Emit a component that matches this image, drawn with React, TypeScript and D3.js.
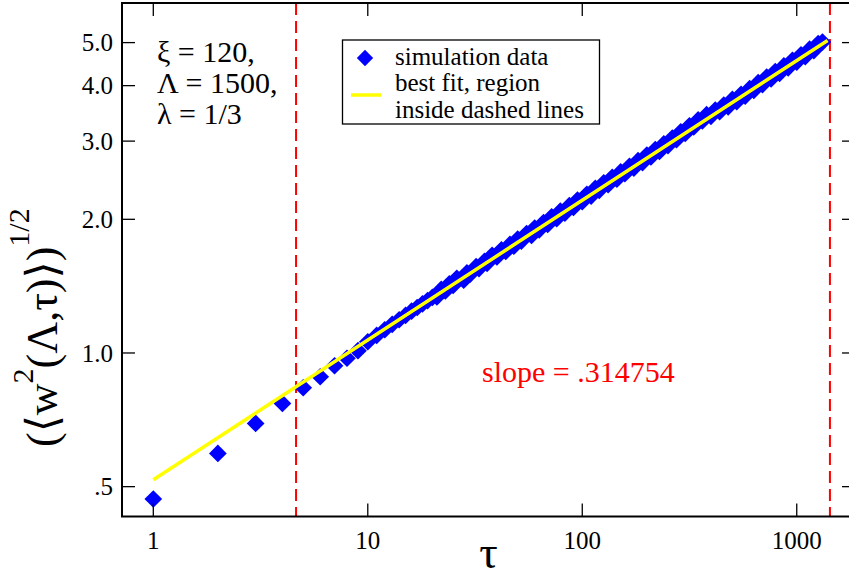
import React from "react";
import * as d3 from "d3";

// ---- data ----
const tau: number[] = [
  1, 2, 3, 4, 5, 6, 7, 8, 9, 10, 11, 12, 13, 14, 15, 16, 17, 18, 19, 20,
  21, 22, 23, 24, 25, 26, 28, 29, 30, 32, 33, 35, 36, 38, 40, 42, 44, 46, 48, 50,
  52, 55, 58, 60, 63, 66, 69, 72, 76, 79, 83, 87, 91, 95, 100, 105, 110, 115, 120, 126,
  132, 138, 145, 151, 158, 166, 174, 182, 191, 200, 209, 219, 229, 240, 251, 263, 275, 288, 302, 316,
  331, 347, 363, 380, 398, 417, 437, 457, 479, 501, 525, 550, 575, 603, 631, 661, 692, 724, 759, 794,
  832, 871, 912, 955, 1000, 1047, 1096, 1148, 1202, 1259, 1318,
];
const width: number[] = [
  0.469, 0.594, 0.694, 0.77, 0.835, 0.884, 0.936, 0.973, 1.012, 1.06, 1.095, 1.128, 1.16, 1.188, 1.215, 1.242, 1.266, 1.29, 1.312, 1.334,
  1.337, 1.39, 1.379, 1.432, 1.419, 1.473, 1.459, 1.516, 1.505, 1.564, 1.549, 1.608, 1.592, 1.659, 1.645, 1.708, 1.693, 1.756, 1.74, 1.806,
  1.787, 1.857, 1.84, 1.912, 1.894, 1.966, 1.948, 2.026, 2.007, 2.086, 2.066, 2.147, 2.127, 2.21, 2.191, 2.277, 2.256, 2.347, 2.324, 2.416,
  2.393, 2.487, 2.463, 2.557, 2.533, 2.632, 2.608, 2.71, 2.684, 2.79, 2.763, 2.872, 2.844, 2.956, 2.931, 3.049, 3.023, 3.148, 3.122, 3.247,
  3.229, 3.349, 3.331, 3.44, 3.412, 3.524, 3.495, 3.617, 3.583, 3.723, 3.681, 3.825, 3.789, 3.938, 3.904, 4.061, 4.023, 4.181, 4.141, 4.304,
  4.263, 4.43, 4.388, 4.561, 4.519, 4.695, 4.65, 4.833, 4.797, 4.975, 5.013,
];
const fitTau: number[] = [1, 1393];
const fitWidth: number[] = [0.518, 5.057];
const dashedTau: number[] = [4.63, 1428];
const xTicks: number[] = [1, 10, 100, 1000];
const xTickLabels: string[] = ["1", "10", "100", "1000"];
const yTicks: number[] = [0.5, 1, 2, 3, 4, 5];
const yTickLabels: string[] = [".5", "1.0", "2.0", "3.0", "4.0", "5.0"];
const paramLines: string[] = ["ξ = 120,", "Λ = 1500,", "λ = 1/3"];
const legendLabels: string[] = ["simulation data", "best fit, region", "inside dashed lines"];
const slopeLabel = "slope = .314754";

const W = 849;
const H = 580;
const L = 122, R = 855, T = 3, B = 516.5;
const FONT = "'Liberation Serif', 'DejaVu Serif', 'Times New Roman', serif";

export default function App() {
  const x = d3.scaleLog().domain([0.7146, 1869]).range([L, R]);
  const y = d3.scaleLog().domain([0.4283, 6.14]).range([B, T]);
  const line = d3.line<[number, number]>().x((d) => x(d[0])).y((d) => y(d[1]));
  const fitPts: [number, number][] = fitTau.map((t, i) => [t, fitWidth[i]]);
  const diamond = d3.symbol().type(d3.symbolDiamond2).size(200)();
  const legendDiamond = d3.symbol().type(d3.symbolDiamond2).size(170)();
  const tickLen = 13;

  return (
    <svg
      width={W}
      height={H}
      style={{ position: "absolute", left: 0, top: 0, background: "#fff" }}
      fontFamily={FONT}
    >
      <rect x={0} y={0} width={W} height={H} fill="#fff" />
      {/* dashed region lines */}
      {dashedTau.map((t, i) => (
        <line key={i} x1={x(t)} x2={x(t)} y1={T} y2={B} stroke="#ff0000" strokeWidth={2} strokeDasharray="12,6" />
      ))}
      {/* data points */}
      <g fill="#0000ff">
        {tau.map((t, i) => (
          <path key={i} d={diamond!} transform={`translate(${x(t)},${y(width[i])})`} />
        ))}
      </g>
      {/* fit line */}
      <path d={line(fitPts)!} stroke="#ffff00" strokeWidth={3.5} fill="none" />

      {/* frame */}
      <rect x={L} y={T} width={R - L} height={B - T} fill="none" stroke="#000" strokeWidth={2} />
      {/* ticks */}
      <g stroke="#000" strokeWidth={1.3}>
        {xTicks.map((t, i) => (
          <g key={i}>
            <line x1={x(t)} x2={x(t)} y1={B} y2={B - tickLen} />
            <line x1={x(t)} x2={x(t)} y1={T} y2={T + tickLen} />
          </g>
        ))}
        {yTicks.map((t, i) => (
          <g key={i}>
            <line x1={L} x2={L + tickLen} y1={y(t)} y2={y(t)} />
            <line x1={R} x2={R - tickLen} y1={y(t)} y2={y(t)} />
          </g>
        ))}
      </g>
      {/* tick labels */}
      <g fontSize={25} fill="#000">
        {xTicks.map((t, i) => (
          <text key={i} x={x(t)} y={549} textAnchor="middle">{xTickLabels[i]}</text>
        ))}
        {yTicks.map((t, i) => (
          <text key={i} x={113} y={y(t)} dy="0.35em" textAnchor="end">{yTickLabels[i]}</text>
        ))}
      </g>
      {/* axis titles */}
      <text x={(L + R) / 2} y={568} textAnchor="middle" fontSize={46}>τ</text>
      <g transform="translate(57,447) rotate(-90)">
        <text x={0} y={0} fontSize={44} textAnchor="start">
          <tspan>(⟨w</tspan>
          <tspan fontSize={30} dy={-24}>2</tspan>
          <tspan dy={24}>(Λ,τ)⟩)</tspan>
          <tspan fontSize={30} dy={-28}>1/2</tspan>
        </text>
      </g>

      {/* parameters */}
      <g fontSize={30} fill="#000">
        {paramLines.map((s, i) => (
          <text key={i} x={157} y={62 + i * 31}>{s}</text>
        ))}
      </g>

      {/* legend */}
      <rect x={342.5} y={40} width={257} height={84} fill="#fff" stroke="#000" strokeWidth={1.3} />
      <path d={legendDiamond!} transform="translate(365,58)" fill="#0000ff" />
      <line x1={351} x2={381} y1={95} y2={95} stroke="#ffff00" strokeWidth={3.5} />
      <g fontSize={25} fill="#000">
        {legendLabels.map((s, i) => (
          <text key={i} x={395} y={65 + i * 26.3}>{s}</text>
        ))}
      </g>

      {/* slope annotation */}
      <text x={482} y={382} fontSize={30} fill="#ff0000">{slopeLabel}</text>
    </svg>
  );
}
